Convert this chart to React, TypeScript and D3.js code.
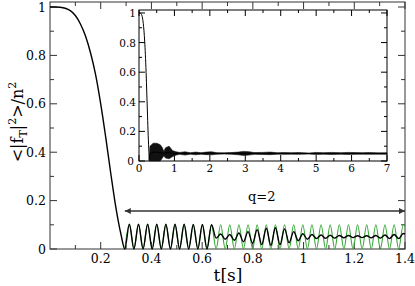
import React from 'react';
import * as d3 from 'd3';

// main panel: initial decay of <|f_T|^2>/n^2
const decayT = [0, 0.02, 0.04, 0.06, 0.08, 0.1, 0.12, 0.14, 0.16, 0.18, 0.2, 0.22, 0.24, 0.26, 0.28];
const decayV = [1, 1, 0.999, 0.995, 0.985, 0.965, 0.93, 0.88, 0.81, 0.72, 0.6, 0.46, 0.31, 0.17, 0.06];

// oscillation extrema (green, q=2 reference)
const greenT = [0.295, 0.313, 0.331, 0.349, 0.367, 0.385, 0.403, 0.421, 0.439, 0.457, 0.475, 0.493, 0.511, 0.529,
  0.547, 0.565, 0.583, 0.601, 0.619, 0.637, 0.655, 0.673, 0.691, 0.709, 0.727, 0.745, 0.763, 0.781, 0.799, 0.817,
  0.835, 0.853, 0.871, 0.889, 0.907, 0.925, 0.943, 0.961, 0.979, 0.997, 1.015, 1.033, 1.051, 1.069, 1.087, 1.105,
  1.123, 1.141, 1.159, 1.177, 1.195, 1.213, 1.231, 1.249, 1.267, 1.285, 1.303, 1.321, 1.339, 1.357, 1.375, 1.393, 1.4];
const greenV = [0, 0.102, 0, 0.102, 0, 0.102, 0, 0.102, 0, 0.102, 0, 0.102, 0, 0.102,
  0, 0.101, 0, 0.101, 0, 0.1, 0, 0.1, 0, 0.1, 0, 0.1, 0, 0.1, 0, 0.1,
  0, 0.1, 0, 0.1, 0, 0.1, 0, 0.1, 0, 0.1, 0, 0.1, 0, 0.1, 0, 0.1,
  0, 0.1, 0, 0.1, 0, 0.1, 0, 0.1, 0, 0.1, 0, 0.1, 0, 0.1, 0, 0.1, 0.095];

// black curve after it leaves the green one
const tailT = [0.655, 0.673, 0.691, 0.709, 0.727, 0.745, 0.763, 0.781, 0.799, 0.817, 0.835, 0.853, 0.871, 0.889,
  0.907, 0.925, 0.943, 0.961, 0.979, 0.997, 1.015, 1.033, 1.051, 1.069, 1.087, 1.105, 1.123, 1.141, 1.159, 1.177,
  1.195, 1.213, 1.231, 1.249, 1.267, 1.285, 1.303, 1.321, 1.339, 1.357, 1.375, 1.393, 1.4];
const tailV = [0.045, 0.062, 0.04, 0.06, 0.036, 0.066, 0.03, 0.072, 0.024, 0.08, 0.018, 0.086, 0.015, 0.088,
  0.018, 0.083, 0.026, 0.072, 0.034, 0.063, 0.04, 0.06, 0.043, 0.058, 0.044, 0.057, 0.045, 0.056, 0.046, 0.056,
  0.047, 0.055, 0.047, 0.055, 0.046, 0.056, 0.045, 0.058, 0.043, 0.06, 0.043, 0.064, 0.062];

// inset: long-time envelope of the fast oscillation
const insetT = [0.29, 0.31, 0.4, 0.5, 0.6, 0.66, 0.7, 0.75, 0.85, 0.95, 1.05, 1.15, 1.3, 1.45, 1.6, 1.75, 1.9, 2.05,
  2.2, 2.4, 2.6, 2.8, 2.95, 3.1, 3.25, 3.5, 3.7, 3.9, 4.1, 4.3, 4.5, 4.8, 5.0, 5.2, 5.45, 5.7, 5.9, 6.1, 6.3, 6.5, 6.75, 7.0];
const insetLo = [0, 0, 0, 0, 0, 0.02, 0.035, 0.02, 0.015, 0.03, 0.04, 0.045, 0.04, 0.046, 0.042, 0.046, 0.043, 0.042,
  0.046, 0.047, 0.046, 0.042, 0.038, 0.04, 0.045, 0.044, 0.043, 0.046, 0.045, 0.046, 0.045, 0.047, 0.044, 0.046, 0.044,
  0.046, 0.044, 0.045, 0.046, 0.045, 0.046, 0.045];
const insetHi = [0.02, 0.1, 0.12, 0.12, 0.11, 0.09, 0.065, 0.09, 0.1, 0.07, 0.062, 0.058, 0.062, 0.056, 0.06, 0.056,
  0.06, 0.062, 0.056, 0.055, 0.057, 0.06, 0.065, 0.063, 0.057, 0.058, 0.06, 0.056, 0.057, 0.056, 0.057, 0.054, 0.058,
  0.056, 0.058, 0.056, 0.058, 0.057, 0.056, 0.057, 0.055, 0.056];

const mainXTicks = [0.2, 0.4, 0.6, 0.8, 1, 1.2, 1.4];
const mainYTicks = [0, 0.2, 0.4, 0.6, 0.8, 1];
const insetXTicks = [0, 1, 2, 3, 4, 5, 6, 7];
const insetYTicks = [0, 0.2, 0.4, 0.6, 0.8, 1];

// Liberation Serif doesn't resolve here, DejaVu Serif does
const serif = 'DejaVu Serif';
const zip = (a: number[], b: number[]) => a.map((t, i) => [t, b[i]] as [number, number]);

export default function App() {
  const x = d3.scaleLinear().domain([0, 1.4]).range([50, 405]);
  const y = d3.scaleLinear().domain([0, 1.0207]).range([249, 2]);
  const ix = d3.scaleLinear().domain([0, 7]).range([139, 387]);
  const iy = d3.scaleLinear().domain([0, 1.02]).range([161, 10]);

  const line = d3.line<[number, number]>().x(d => x(d[0])).y(d => y(d[1])).curve(d3.curveMonotoneX);
  const iline = d3.line<[number, number]>().x(d => ix(d[0])).y(d => iy(d[1])).curve(d3.curveMonotoneX);
  const iarea = d3.area<number>()
    .x((_, i) => ix(insetT[i]))
    .y0((_, i) => iy(insetLo[i]))
    .y1((_, i) => iy(insetHi[i]));
  const imid = d3.line<number>().x((_, i) => ix(insetT[i])).y((_, i) => iy((insetLo[i] + insetHi[i]) / 2));

  const green = zip(greenT, greenV);
  const lastIdx = greenT.indexOf(0.637);
  const black = [...zip(decayT, decayV), ...green.slice(0, lastIdx + 1), ...zip(tailT, tailV)];

  const [x0, x1] = x.range();
  const [y0, y1] = y.range();
  const [ix0, ix1] = ix.range();
  const [iy0, iy1] = iy.range();

  const mainMinorX = d3.range(0.1, 1.4, 0.2);
  const mainMinorY = d3.range(0.1, 1.0, 0.2);
  const insetMinorX = d3.range(0.5, 7, 1);
  const insetMinorY = d3.range(0.1, 1.0, 0.2);

  const tk = '#333';

  return (
    <svg width={415} height={286} style={{ position: 'absolute', left: 0, top: 0 }}>
      <defs>
        <marker id="ah" viewBox="0 0 10 10" refX="10" refY="5" markerWidth="7" markerHeight="6"
          markerUnits="userSpaceOnUse" orient="auto-start-reverse">
          <path d="M0,0 L10,5 L0,10 z" fill="#333" />
        </marker>
      </defs>
      <rect width={415} height={286} fill="#fff" />

      {/* main frame + ticks */}
      <rect x={x0} y={y1} width={x1 - x0} height={y0 - y1} fill="none" stroke={tk} strokeWidth={1} />
      {mainXTicks.map(t => (
        <g key={'mx' + t}>
          <line x1={x(t)} x2={x(t)} y1={y0} y2={y0 - 7} stroke={tk} />
          <line x1={x(t)} x2={x(t)} y1={y1} y2={y1 + 7} stroke={tk} />
          <text x={x(t)} y={263} textAnchor="middle" fontSize={12.5} fontFamily={serif}>{t}</text>
        </g>
      ))}
      {mainMinorX.map(t => (
        <g key={'mmx' + t}>
          <line x1={x(t)} x2={x(t)} y1={y0} y2={y0 - 4} stroke={tk} />
          <line x1={x(t)} x2={x(t)} y1={y1} y2={y1 + 4} stroke={tk} />
        </g>
      ))}
      {mainYTicks.map(v => (
        <g key={'my' + v}>
          <line x1={x0} x2={x0 + 7} y1={y(v)} y2={y(v)} stroke={tk} />
          <line x1={x1} x2={x1 - 7} y1={y(v)} y2={y(v)} stroke={tk} />
          <text x={46} y={y(v) + 4.5} textAnchor="end" fontSize={12.5} fontFamily={serif}>{v}</text>
        </g>
      ))}
      {mainMinorY.map(v => (
        <g key={'mmy' + v}>
          <line x1={x0} x2={x0 + 4} y1={y(v)} y2={y(v)} stroke={tk} />
          <line x1={x1} x2={x1 - 4} y1={y(v)} y2={y(v)} stroke={tk} />
        </g>
      ))}

      {/* curves */}
      <path d={line(green) ?? ''} fill="none" stroke="#3aa83a" strokeWidth={1.1} />
      <path d={line(black) ?? ''} fill="none" stroke="#000" strokeWidth={1.4} />

      {/* q=2 arrow */}
      <line x1={x(0.295)} x2={x(1.4)} y1={y(0.157)} y2={y(0.157)} stroke="#333" strokeWidth={1.6}
        markerStart="url(#ah)" markerEnd="url(#ah)" />
      <text x={x(0.835)} y={y(0.2)} textAnchor="middle" fontSize={13} fontFamily={serif}>q=2</text>

      {/* axis titles */}
      <text transform="translate(23,122) rotate(-90)" textAnchor="middle" fontSize={16} fontFamily={serif}>
        {'<|f'}<tspan fontSize={11} dy={4}>T</tspan><tspan dy={-4}>|</tspan>
        <tspan fontSize={11} dy={-7}>2</tspan><tspan dy={7}>{'>/n'}</tspan>
        <tspan fontSize={11} dy={-7}>2</tspan>
      </text>
      <text x={228} y={281} textAnchor="middle" fontSize={17} fontFamily={serif}>t[s]</text>

      {/* inset */}
      <rect x={ix0} y={iy1} width={ix1 - ix0} height={iy0 - iy1} fill="#fff" stroke="#000" strokeWidth={1} />
      {insetXTicks.map(t => (
        <g key={'ix' + t}>
          <line x1={ix(t)} x2={ix(t)} y1={iy0} y2={iy0 - 6} stroke="#000" />
          <line x1={ix(t)} x2={ix(t)} y1={iy1} y2={iy1 + 6} stroke="#000" />
          <text x={ix(t)} y={172} textAnchor="middle" fontSize={10.5} fontFamily={serif}>{t}</text>
        </g>
      ))}
      {insetMinorX.map(t => (
        <g key={'imx' + t}>
          <line x1={ix(t)} x2={ix(t)} y1={iy0} y2={iy0 - 3} stroke="#000" />
          <line x1={ix(t)} x2={ix(t)} y1={iy1} y2={iy1 + 3} stroke="#000" />
        </g>
      ))}
      {insetYTicks.map(v => (
        <g key={'iy' + v}>
          <line x1={ix0} x2={ix0 + 6} y1={iy(v)} y2={iy(v)} stroke="#000" />
          <line x1={ix1} x2={ix1 - 6} y1={iy(v)} y2={iy(v)} stroke="#000" />
          <text x={v === 0 ? 134 : 136} y={iy(v) + 4} textAnchor="end" fontSize={10.5} fontFamily={serif}>{v}</text>
        </g>
      ))}
      {insetMinorY.map(v => (
        <g key={'imy' + v}>
          <line x1={ix0} x2={ix0 + 3} y1={iy(v)} y2={iy(v)} stroke="#000" />
          <line x1={ix1} x2={ix1 - 3} y1={iy(v)} y2={iy(v)} stroke="#000" />
        </g>
      ))}
      <path d={iline([...zip(decayT, decayV), [0.29, 0]]) ?? ''} fill="none" stroke="#000" strokeWidth={1} />
      <path d={iarea(insetT) ?? ''} fill="#111" stroke="#111" strokeWidth={0.6} />
      <path d={imid(insetT) ?? ''} fill="none" stroke="#000" strokeWidth={1} />
    </svg>
  );
}
